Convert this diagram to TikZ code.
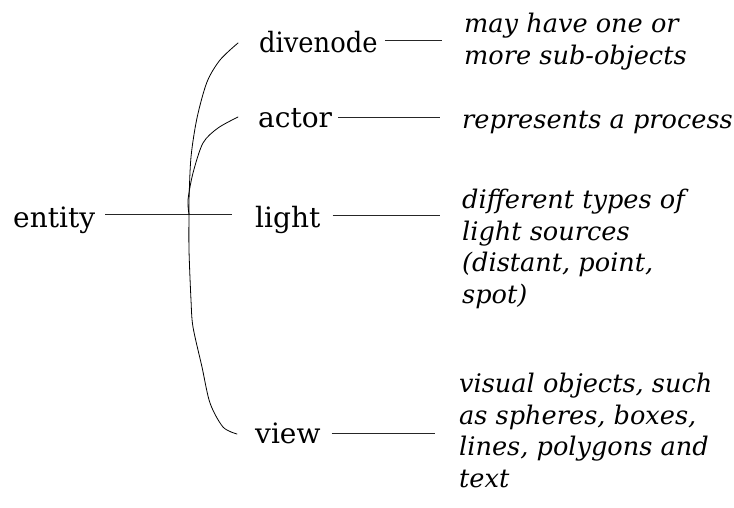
\documentclass[tikz,border=0pt]{standalone}
\usepackage{fontspec}
\setmainfont{DejaVu Serif}
\begin{document}
\begin{tikzpicture}[x=1pt,y=-1pt,
  lbl/.style={anchor=base west,inner sep=0pt,font=\fontsize{28}{31}\selectfont},
  desc/.style={anchor=base west,inner sep=0pt,align=left,font=\fontsize{25.6}{31.5}\selectfont\itshape},
  wire/.style={line width=0.9pt,black!85},
  branch/.style={line width=0.8pt,line join=round,line cap=round}]
\useasboundingbox (0,0) rectangle (734,507);

% class names
\node[lbl] (entity)   at (13,227)  {entity};
\node[lbl] (divenode) at (259,52)  {\addfontfeatures{FakeStretch=0.92}divenode};
\node[lbl] (actor)    at (258,127) {actor};
\node[lbl] (light)    at (255,227) {light};
\node[lbl] (view)     at (255,443) {view};

% descriptions (a multi-line node sits on the baseline of its last line)
\node[desc] (d1) at (464,64)  {may have one or\\more sub-objects};
\node[desc] (d2) at (462,128) {represents a process};
\node[desc] (d3) at (462,303) {different types of\\light sources\\(distant, point,\\spot)};
\node[desc] (d4) at (459,487) {visual objects, such\\as spheres, boxes,\\lines, polygons and\\text};

% branching point of the tree
\coordinate (j) at (189,214);
\coordinate (dvin) at ([xshift=-21pt,yshift=9pt]divenode.base west);
\coordinate (acin) at ([xshift=-20pt,yshift=10pt]actor.base west);
\coordinate (vwin) at ([xshift=-18pt,yshift=9pt]view.base west);

% trunk and straight branch
\draw[wire] ([xshift=10pt,yshift=13pt]entity.base east) -- (j);
\draw[wire,shorten >=23pt] (j) -- (j -| light.west);

% curved branches
\draw[branch] plot[smooth,tension=0.5] coordinates
  {(j) (189,200) (191,157) (197,118) (207,82) (220,60) (dvin)};
\draw[branch] plot[smooth,tension=0.5] coordinates
  {(j) (188,200) (193,173) (203,143) (218,128) (acin)};
\draw[branch] plot[smooth,tension=0.5] coordinates
  {(j) (189,250) (191,300) (193,327) (202,367) (210,403) (223,427) (vwin)};

% leaders to the descriptions
\path ([xshift=7pt,yshift=12pt]divenode.base east) coordinate (a1);
\path ([xshift=6pt,yshift=10pt]actor.base east) coordinate (a2);
\path ([xshift=12pt,yshift=12pt]light.base east) coordinate (a3);
\path ([xshift=11pt,yshift=10pt]view.base east) coordinate (a4);
\draw[wire,shorten >=22pt] (a1) -- (a1 -| d1.west);
\draw[wire,shorten >=22pt] (a2) -- (a2 -| d2.west);
\draw[wire,shorten >=22pt] (a3) -- (a3 -| d3.west);
\draw[wire,shorten >=24pt] (a4) -- (a4 -| d4.west);
\end{tikzpicture}
\end{document}
